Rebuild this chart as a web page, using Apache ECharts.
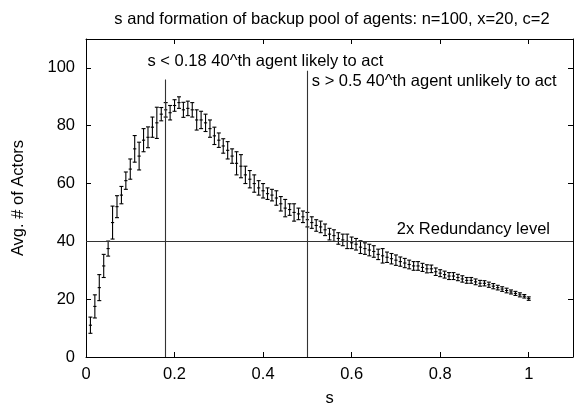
<!DOCTYPE html>
<html><head><meta charset="utf-8">
<script src="https://cdn.jsdelivr.net/npm/echarts@6/dist/echarts.min.js"></script>
<style>html,body{margin:0;padding:0;background:#fff}#c{width:576px;height:412px}</style>
</head><body><div id="c"></div>
<script>
const sValues = [0.01,0.02,0.03,0.04,0.05,0.06,0.07,0.08,0.09,0.10,
0.11,0.12,0.13,0.14,0.15,0.16,0.17,0.18,0.19,0.20,
0.21,0.22,0.23,0.24,0.25,0.26,0.27,0.28,0.29,0.30,
0.31,0.32,0.33,0.34,0.35,0.36,0.37,0.38,0.39,0.40,
0.41,0.42,0.43,0.44,0.45,0.46,0.47,0.48,0.49,0.50,
0.51,0.52,0.53,0.54,0.55,0.56,0.57,0.58,0.59,0.60,
0.61,0.62,0.63,0.64,0.65,0.66,0.67,0.68,0.69,0.70,
0.71,0.72,0.73,0.74,0.75,0.76,0.77,0.78,0.79,0.80,
0.81,0.82,0.83,0.84,0.85,0.86,0.87,0.88,0.89,0.90,
0.91,0.92,0.93,0.94,0.95,0.96,0.97,0.98,0.99,1.00];
const avgActors = [11,17.5,24,31.5,37.5,46.5,52,56,61,65,
72,69.5,75,76,79.5,81,84,85.5,84.5,87,
88,85.5,86,85.5,82,82,81,79,76.5,75,
73,71.5,69.5,67,66,63,61.5,60,58.5,57.5,
56.5,56,55,53,51.5,51,50,49.5,48.5,47.5,
46.5,45.5,45,44,42.5,42,41,40.5,40,39.5,
39,38,37.5,37,36.5,35.5,35,34.5,34,33.5,
33,32.5,32,31.5,31.5,31,30.5,30.5,29.5,29,
28.5,28,28,27.5,27,26.5,26.5,26,25.5,25.5,
25,24.5,24,23.5,23,22.5,22,21.5,21,20.2];
const errors = [2.8,4,4.5,4,2.6,5.7,3.8,3,3,3.5,
4.6,4.8,4,3.6,3.5,5.4,2.3,2.5,2.5,2,
2,2.6,2.5,2.5,3.5,3,3,3,3,2.5,
2.5,3,2.5,4,4,3,3,3,2.5,2.5,
2,2,2.5,2.5,3,2,3,2,2,2.5,
2,2,2,2,2,2,2,2,2.5,2,
2,2.2,2,2,2,1.8,2.5,1.8,1.8,1.8,
1.6,1.6,1.5,1.5,1.5,1.4,1.4,1.3,1.3,1.2,
1.2,1.2,1.2,1.1,1.1,1,1,1,1,0.9,
0.9,0.9,0.8,0.8,0.8,0.7,0.7,0.7,0.6,0.6];
const xTickLabels = ['0','0.2','0.4','0.6','0.8','1'];
const yTickLabels = ['0','20','40','60','80','100'];
const vLines = [[0.18, 96], [0.5, 99]];
const redundancyLevel = 40;
const annotations = [
  {text: 's < 0.18 40^th agent likely to act', at: [0.139, 102.4]},
  {text: 's > 0.5 40^th agent unlikely to act', at: [0.51, 95.3]},
  {text: '2x Redundancy level', at: [0.702, 44.0]}
];

const FONT = 'Liberation Sans';
const FS = 16.5;
const chart = echarts.init(document.getElementById('c'), null, {renderer: 'canvas'});
const points = sValues.map((s, i) => [s, avgActors[i], errors[i]]);

function xFmt(v){ const i = Math.round(v / 0.2); return (Math.abs(v - i*0.2) < 1e-6 && i < xTickLabels.length) ? xTickLabels[i] : ''; }
function yFmt(v){ const i = Math.round(v / 20); return (Math.abs(v - i*20) < 1e-6 && i < yTickLabels.length) ? yTickLabels[i] : ''; }

const axisCommon = {
  axisLine: {show: true, onZero: false, lineStyle: {color: '#000', width: 1}},
  axisTick: {show: true, inside: true, length: 5, lineStyle: {color: '#000'}},
  splitLine: {show: false}
};

chart.setOption({
  animation: false,
  backgroundColor: '#fff',
  title: {
    text: 's and formation of backup pool of agents: n=100, x=20, c=2',
    left: 327, top: 6, textAlign: 'center',
    textStyle: {fontFamily: FONT, fontSize: FS, fontWeight: 'normal', color: '#000'}
  },
  grid: {left: 86, right: 0, top: 39, bottom: 53},
  xAxis: [
    Object.assign({type: 'value', min: 0, max: 1.1, interval: 0.2, position: 'bottom',
      name: 's', nameLocation: 'middle', nameGap: 33,
      nameTextStyle: {fontFamily: FONT, fontSize: FS, color: '#000'},
      axisLabel: {formatter: xFmt, fontFamily: FONT, fontSize: FS, color: '#000', margin: 9}}, axisCommon),
    Object.assign({type: 'value', min: 0, max: 1.1, interval: 0.2, position: 'top',
      axisLabel: {show: false}}, axisCommon)
  ],
  yAxis: [
    Object.assign({type: 'value', min: 0, max: 110, interval: 20, position: 'left',
      name: 'Avg. # of Actors', nameLocation: 'middle', nameGap: 59, nameRotate: 90,
      nameTextStyle: {fontFamily: FONT, fontSize: FS, color: '#000'},
      axisLabel: {formatter: yFmt, fontFamily: FONT, fontSize: FS, color: '#000', margin: 11}}, axisCommon),
    Object.assign({type: 'value', min: 0, max: 110, interval: 20, position: 'right',
      axisLabel: {show: false}}, axisCommon)
  ],
  series: [{
    type: 'custom',
    xAxisIndex: 0, yAxisIndex: 0,
    data: points,
    clip: true,
    renderItem: function (params, api) {
      const x = api.value(0), y = api.value(1), e = api.value(2);
      const t = api.coord([x, y + e]), b = api.coord([x, y - e]), c = api.coord([x, y]);
      const cap = 2, m = 1.6;
      const st = {stroke: '#000', lineWidth: 1.1};
      return {type: 'group', children: [
        {type: 'line', shape: {x1: t[0], y1: t[1], x2: b[0], y2: b[1]}, style: st},
        {type: 'line', shape: {x1: t[0] - cap, y1: t[1], x2: t[0] + cap, y2: t[1]}, style: st},
        {type: 'line', shape: {x1: b[0] - cap, y1: b[1], x2: b[0] + cap, y2: b[1]}, style: st},
        {type: 'line', shape: {x1: c[0] - m, y1: c[1], x2: c[0] + m, y2: c[1]}, style: st}
      ]};
    },
    markLine: {
      silent: true, symbol: ['none', 'none'], animation: false,
      label: {show: false},
      lineStyle: {color: '#333', width: 1.1, type: 'solid'},
      data: vLines.map(v => [{coord: [v[0], 0]}, {coord: [v[0], v[1]]}]).concat([
        [{coord: [0, redundancyLevel]}, {coord: [1.1, redundancyLevel]}]
      ])
    },
    markPoint: {
      silent: true, symbol: 'circle', symbolSize: 0, animation: false,
      label: {show: true, position: 'right', distance: 0, fontFamily: FONT, fontSize: FS, color: '#000'},
      data: annotations.map(a => ({coord: a.at, value: a.text, label: {formatter: a.text}}))
    }
  }]
});
</script></body></html>
